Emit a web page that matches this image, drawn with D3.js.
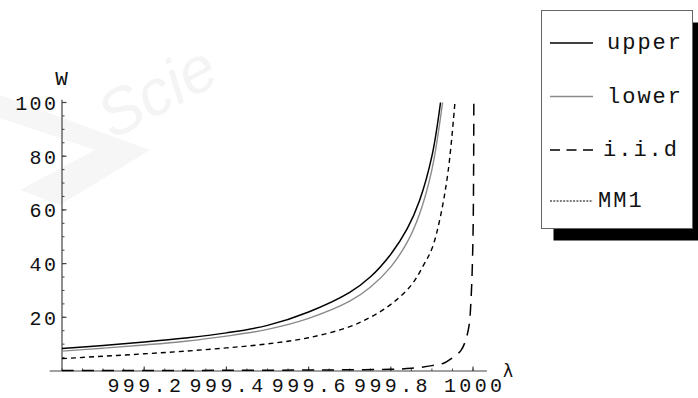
<!DOCTYPE html>
<html>
<head>
<meta charset="utf-8">
<script src="https://cdn.jsdelivr.net/npm/d3@7"></script>
<style>
  body { margin: 0; background: #fff; }
  svg { display: block; }
</style>
</head>
<body>
<svg id="chart" width="698" height="398"></svg>
<script>
// Mean waiting time W against arrival rate λ for four bounds/models
const upperLambda = [999.0, 999.1, 999.2, 999.3, 999.4, 999.5, 999.6, 999.7, 999.75, 999.8, 999.84, 999.87, 999.9, 999.921];
const upperW      = [8.4,   9.5,   10.8,  12.3,  14.2,  17.0,  22.0,  29.3,  35.0,   43.5,  53.0,   63.5,   80.0,  100];

const lowerLambda = [999.0, 999.1, 999.2, 999.3, 999.4, 999.5, 999.6, 999.7, 999.75, 999.8, 999.84, 999.87, 999.9, 999.926];
const lowerW      = [7.4,   8.5,   9.7,   11.1,  13.0,  15.5,  19.6,  26.0,  31.2,   38.8,  48.0,   58.5,   75.0,  100];

const iidLambda = [999.0, 999.2, 999.4, 999.6, 999.7, 999.8, 999.85, 999.9, 999.93, 999.95, 999.97, 999.98, 999.99, 999.995, 1000.0, 1000.002];
const iidW      = [0.15,  0.2,   0.25,  0.35,  0.45,  0.65,  1.0,    2.0,   3.0,    4.9,    7.5,    10.5,   16.5,   26.0,    50.0,   100];

const mm1Lambda = [999.0, 999.1, 999.2, 999.3, 999.4, 999.5, 999.6, 999.7, 999.75, 999.8, 999.85, 999.88, 999.9, 999.92, 999.94, 999.956];
const mm1W      = [4.6,   5.5,   6.4,   7.4,   8.6,   10.1,  12.4,  16.5,  20.0,   24.8,  32.0,   39.5,   45.5,  57.0,   75.0,   100];

const seriesNames = ["upper", "lower", "i.i.d", "MM1"];

const xTickValues = [999.2, 999.4, 999.6, 999.8, 1000];
const xTickLabels = ["999.2", "999.4", "999.6", "999.8", "1000"];
const yTickValues = [20, 40, 60, 80, 100];
const yTickLabels = ["20", "40", "60", "80", "100"];

const svg = d3.select("#chart");

// faint publisher watermark in the background
const wm = svg.append("g").attr("stroke", "none");
wm.append("path")
  .attr("d", "M0,95 L150,150 L60,205 L20,190 L95,150 L0,118 Z")
  .attr("fill", "#f6f6f6");
wm.append("text")
  .attr("transform", "translate(112,140) rotate(-28)")
  .attr("font-family", "Liberation Sans, Arial, sans-serif")
  .attr("font-size", 64)
  .attr("font-style", "italic")
  .attr("fill", "#f4f4f4")
  .text("Scie");

const x = d3.scaleLinear().domain([999.0, 1000.0]).range([62, 473]);
const y = d3.scaleLinear().domain([0, 100]).range([371, 102.5]);

const axisColor = "#444";
const tickFont = "Liberation Mono, DejaVu Sans Mono, monospace";
const legendFont = "Liberation Mono, Courier New, monospace";

// axes
const axes = svg.append("g").attr("stroke", axisColor).attr("stroke-width", 1.2);
axes.append("line")
  .attr("x1", x(998.97)).attr("x2", x(1000.034))
  .attr("y1", y(0)).attr("y2", y(0));
axes.append("line")
  .attr("x1", x(999.0)).attr("x2", x(999.0))
  .attr("y1", y(0)).attr("y2", y(101));

// x ticks (major every 0.2, minor every 0.05), drawn upward
const xMinor = d3.range(0, 21).map(i => 999.0 + i * 0.05);
axes.selectAll("line.xminor").data(xMinor).join("line")
  .attr("class", "xminor")
  .attr("stroke-width", 1)
  .attr("x1", d => x(d)).attr("x2", d => x(d))
  .attr("y1", y(0)).attr("y2", y(0) - 2.5);
axes.selectAll("line.xmajor").data(xTickValues).join("line")
  .attr("class", "xmajor")
  .attr("x1", d => x(d)).attr("x2", d => x(d))
  .attr("y1", y(0)).attr("y2", y(0) - 4.5);

// y ticks (major every 20, minor every 5), drawn rightward
const yMinor = d3.range(1, 21).map(i => i * 5);
axes.selectAll("line.yminor").data(yMinor).join("line")
  .attr("class", "yminor")
  .attr("stroke-width", 1)
  .attr("x1", x(999.0)).attr("x2", x(999.0) + 2.5)
  .attr("y1", d => y(d)).attr("y2", d => y(d));
axes.selectAll("line.ymajor").data(yTickValues).join("line")
  .attr("class", "ymajor")
  .attr("x1", x(999.0)).attr("x2", x(999.0) + 4.5)
  .attr("y1", d => y(d)).attr("y2", d => y(d));

const tickLS = 3.4;
svg.append("g").selectAll("text").data(xTickValues).join("text")
  .attr("x", d => x(d) + tickLS / 2)
  .attr("y", y(0) + 20.5)
  .attr("text-anchor", "middle")
  .attr("font-family", tickFont)
  .attr("font-size", 20)
  .attr("letter-spacing", tickLS)
  .attr("fill", "#111")
  .text((d, i) => xTickLabels[i]);

svg.append("g").selectAll("text").data(yTickValues).join("text")
  .attr("x", x(999.0) - 6 + 2.4)
  .attr("y", d => y(d) + 7.5)
  .attr("text-anchor", "end")
  .attr("font-family", tickFont)
  .attr("font-size", 20)
  .attr("letter-spacing", 2.4)
  .attr("fill", "#111")
  .text((d, i) => yTickLabels[i]);

// axis titles
svg.append("text")
  .attr("x", x(999.0) - 0.5).attr("y", 85)
  .attr("text-anchor", "middle")
  .attr("font-family", legendFont)
  .attr("font-size", 21)
  .attr("fill", "#111")
  .text("W");
svg.append("text")
  .attr("x", x(1000.034) + 16).attr("y", y(0) + 6)
  .attr("font-family", "DejaVu Sans, sans-serif")
  .attr("font-size", 17)
  .attr("fill", "#111")
  .text("λ");

// curves
const line = d3.line()
  .x(d => x(d[0]))
  .y(d => y(d[1]))
  .curve(d3.curveCatmullRom.alpha(0.5));

const series = [
  { name: "upper", lam: upperLambda, w: upperW, color: "#000", width: 1.5, dash: null, legendDash: null },
  { name: "lower", lam: lowerLambda, w: lowerW, color: "#8a8a8a", width: 1.4, dash: null, legendDash: null },
  { name: "i.i.d", lam: iidLambda, w: iidW, color: "#000", width: 1.5, dash: "12,8", legendDash: "10,6.5" },
  { name: "MM1", lam: mm1Lambda, w: mm1W, color: "#000", width: 1.4, dash: "5,4", legendDash: "2,1.3" }
];

svg.append("g").selectAll("path").data(series).join("path")
  .attr("fill", "none")
  .attr("stroke", d => d.color)
  .attr("stroke-width", d => d.width)
  .attr("stroke-dasharray", d => d.dash)
  .attr("d", d => line(d.lam.map((l, i) => [l, d.w[i]])));

// legend box with drop shadow
const lg = svg.append("g");
lg.append("rect")
  .attr("x", 553.5).attr("y", 22.5).attr("width", 151).attr("height", 218)
  .attr("fill", "#000");
lg.append("rect")
  .attr("x", 541.5).attr("y", 10.5).attr("width", 151).attr("height", 218)
  .attr("fill", "#fff").attr("stroke", "#666").attr("stroke-width", 1);

const legendY = [43, 96.5, 150, 201];
const legendTextX = [607, 607, 603, 598];
series.forEach((s, i) => {
  lg.append("line")
    .attr("x1", 550).attr("x2", 593)
    .attr("y1", legendY[i]).attr("y2", legendY[i])
    .attr("stroke", s.color)
    .attr("stroke-width", s.name === "MM1" ? 1 : 1.4)
    .attr("stroke-dasharray", s.legendDash);
  lg.append("text")
    .attr("x", legendTextX[i]).attr("y", legendY[i] + 6)
    .attr("font-family", legendFont)
    .attr("font-size", 22)
    .attr("letter-spacing", 2)
    .attr("fill", "#111")
    .text(seriesNames[i]);
});
</script>
</body>
</html>
